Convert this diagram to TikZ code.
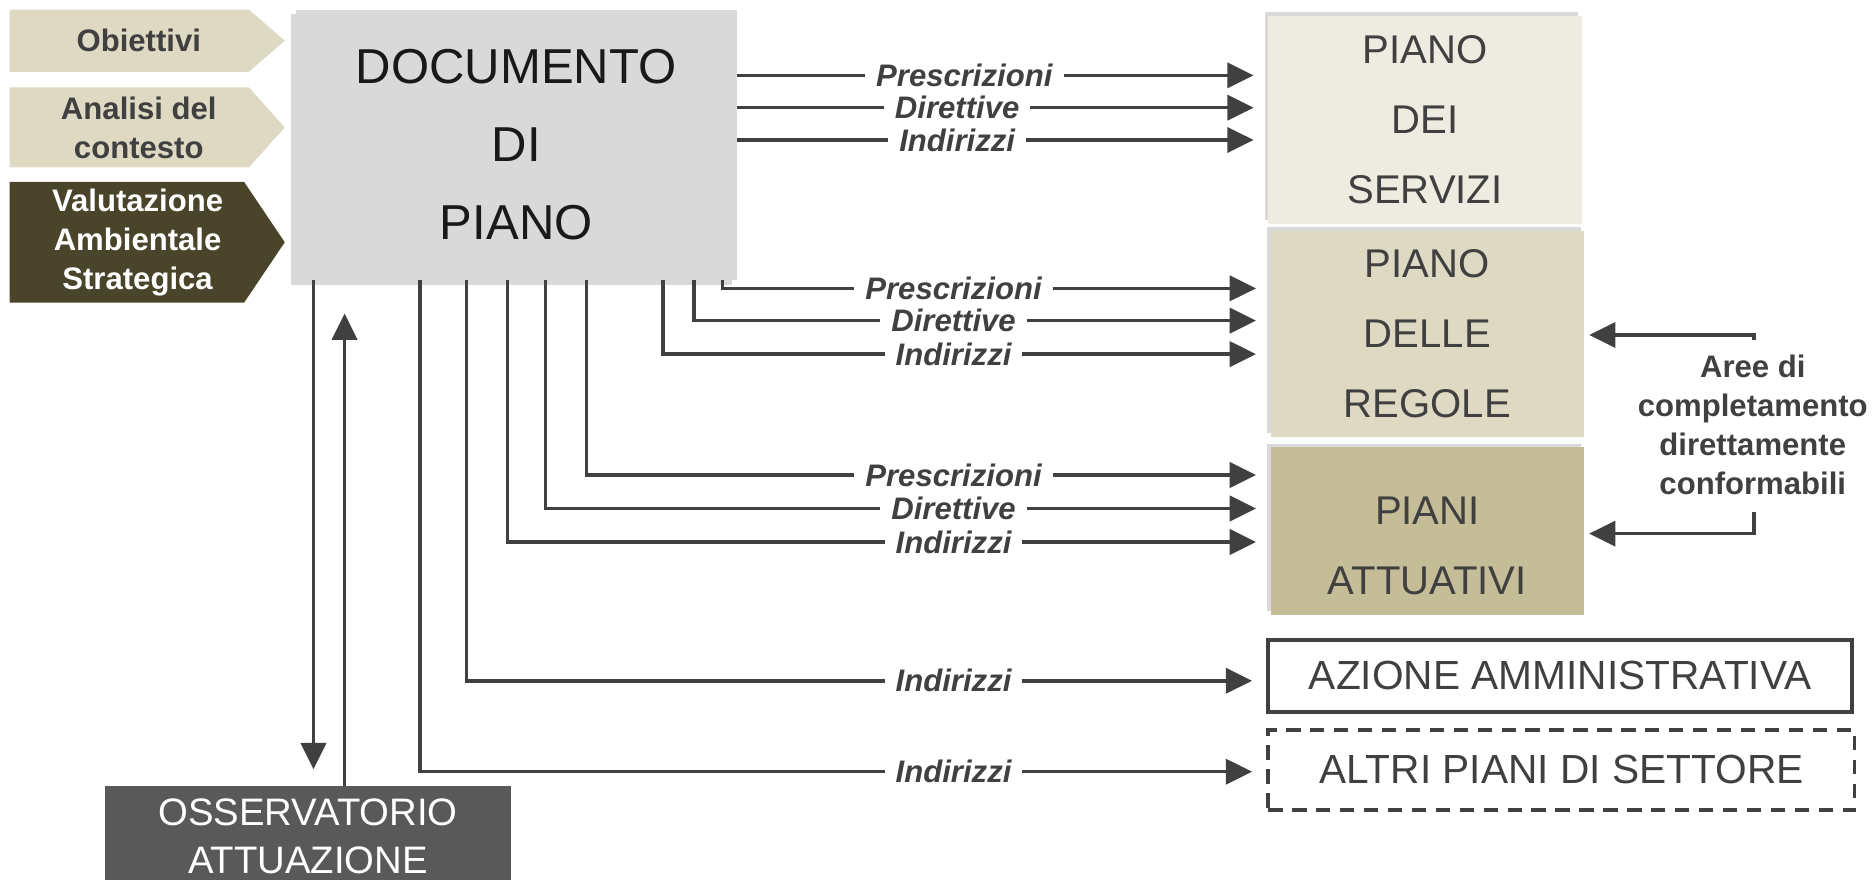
\documentclass[tikz,border=0pt]{standalone}
\usepackage{fontspec}
\setmainfont{Liberation Sans}
\usetikzlibrary{arrows.meta,calc,positioning,shadows}

\definecolor{linegrey}{HTML}{404040}
\definecolor{ddpgrey}{HTML}{D9D9D9}
\definecolor{chevlight}{HTML}{DDD9C3}
\definecolor{chevdark}{HTML}{4A452A}
\definecolor{pdsfill}{HTML}{EEECE1}
\definecolor{pdrfill}{HTML}{DDD9C3}
\definecolor{pafill}{HTML}{C4BD97}
\definecolor{ossgrey}{HTML}{595959}

\tikzset{
  conn/.style={draw=linegrey, line width=2.9pt},
  arr/.style={conn, -{Triangle[length=22pt,width=21pt]}},
  lbl/.style={font=\fontsize{26}{26}\selectfont\bfseries\itshape, text=linegrey, inner xsep=9pt, inner ysep=0pt},
  chevtext/.style={font=\fontsize{26}{32.5}\selectfont\bfseries, align=center},
  ddpbox/.style={fill=ddpgrey, minimum width=369pt, minimum height=226pt, align=center, text=black!90,
    font=\fontsize{41}{65}\selectfont, drop shadow={shadow xshift=-4pt, shadow yshift=-4pt, opacity=.3}},
  pianotext/.style={text=linegrey, align=center, font=\fontsize{33.5}{58.5}\selectfont, inner sep=0pt},
  pianobox/.style={pianotext, minimum width=262pt, drop shadow={shadow xshift=-3pt, shadow yshift=3pt, opacity=.3}},
  outbox/.style={line width=2.9pt, minimum width=488pt, minimum height=60pt, text=linegrey,
    font=\fontsize{34}{34}\selectfont, inner sep=0pt},
  ossbox/.style={fill=ossgrey, text=white, minimum width=339pt, minimum height=84pt, align=center,
    font=\fontsize{32}{40}\selectfont},
}

\begin{document}
\begin{tikzpicture}[x=1pt,y=-1pt]
  \useasboundingbox (0,0) rectangle (1568,735.5);
  % inputs
  \fill[chevlight] (8,8) -- (208,8) -- (238,34) -- (208,60) -- (8,60) -- cycle;
  \fill[chevlight] (8,73) -- (208,73) -- (238,106.5) -- (208,140) -- (8,140) -- cycle;
  \fill[chevdark] (8,152) -- (204,152) -- (238,202.5) -- (204,253) -- (8,253) -- cycle;
  \node[chevtext,text=linegrey] (obiettivi) at (116,34) {Obiettivi};
  \node[chevtext,text=linegrey] (analisi) at (116,107) {Analisi del\\contesto};
  \node[chevtext,text=white] (vas) at (115,203) {Valutazione\\Ambientale\\Strategica};

  % boxes
  \node[ddpbox] (ddp) at (431.5,121) {DOCUMENTO\\DI\\PIANO};
  \node[pianobox,fill=pdsfill,minimum height=174pt] (pds) at (1191,100) {PIANO\\DEI\\SERVIZI};
  \node[pianobox,fill=pdrfill,minimum height=172pt] (pdr) at (1193,279) {PIANO\\DELLE\\REGOLE};
  \node[pianobox,fill=pafill,minimum height=140pt] (pa) at (1193,444) {};
  \node[pianotext] (patext) at (1193,456) {PIANI\\ATTUATIVI};
  \node[outbox,draw=linegrey] (azione) at (1304,565) {AZIONE AMMINISTRATIVA};
  \node[outbox,draw=linegrey,dash pattern=on 12pt off 8pt,minimum width=490pt,minimum height=67pt] (altri) at (1305,643.5) {ALTRI PIANI DI SETTORE};
  \node[ossbox] (oss) at (257.5,699) {OSSERVATORIO\\ATTUAZIONE};

  % to piano dei servizi
  \node[lbl] (lp1) at (806,63) {Prescrizioni};
  \node[lbl] (ld1) at (800,90) {Direttive};
  \node[lbl] (li1) at (800,117) {Indirizzi};
  \draw[arr] (ddp.east |- lp1) -- (lp1) -- ($(pds.west |- lp1)+(-12,0)$);
  \draw[arr] (ddp.east |- ld1) -- (ld1) -- ($(pds.west |- ld1)+(-12,0)$);
  \draw[arr] (ddp.east |- li1) -- (li1) -- ($(pds.west |- li1)+(-12,0)$);

  % to piano delle regole
  \coordinate (cp2) at (604,241);
  \coordinate (cd2) at (580,268);
  \coordinate (ci2) at (554,296);
  \node[lbl] (lp2) at (797,241) {Prescrizioni};
  \node[lbl] (ld2) at (797,268) {Direttive};
  \node[lbl] (li2) at (797,296) {Indirizzi};
  \draw[arr] (ddp.south -| cp2) -- (cp2) -- (lp2) -- ($(pdr.west |- lp2)+(-12,0)$);
  \draw[arr] (ddp.south -| cd2) -- (cd2) -- (ld2) -- ($(pdr.west |- ld2)+(-12,0)$);
  \draw[arr] (ddp.south -| ci2) -- (ci2) -- (li2) -- ($(pdr.west |- li2)+(-12,0)$);

  % to piani attuativi
  \coordinate (cp3) at (490,397);
  \coordinate (cd3) at (456,425);
  \coordinate (ci3) at (424,453);
  \node[lbl] (lp3) at (797,397) {Prescrizioni};
  \node[lbl] (ld3) at (797,425) {Direttive};
  \node[lbl] (li3) at (797,453) {Indirizzi};
  \draw[arr] (ddp.south -| cp3) -- (cp3) -- (lp3) -- ($(pa.west |- lp3)+(-12,0)$);
  \draw[arr] (ddp.south -| cd3) -- (cd3) -- (ld3) -- ($(pa.west |- ld3)+(-12,0)$);
  \draw[arr] (ddp.south -| ci3) -- (ci3) -- (li3) -- ($(pa.west |- li3)+(-12,0)$);

  % azione and altri piani
  \coordinate (ca) at (390,569);
  \coordinate (cs) at (351,645);
  \node[lbl] (la) at (797,569) {Indirizzi};
  \node[lbl] (ls) at (797,645) {Indirizzi};
  \draw[arr] (ddp.south -| ca) -- (ca) -- (la) -- ($(azione.west |- la)+(-12,0)$);
  \draw[arr] (ddp.south -| cs) -- (cs) -- (ls) -- ($(altri.west |- ls)+(-12,0)$);

  % osservatorio
  \coordinate (dn) at (262,643);
  \coordinate (up) at (288,262);
  \draw[arr] (ddp.south -| dn) -- (dn);
  \draw[arr] (oss.north -| up) -- (up);

  % aree di completamento
  \node[chevtext,text=linegrey] (aree) at (1465,355) {Aree di\\completamento\\direttamente\\conformabili};
  \coordinate (ta) at (1466,280);
  \coordinate (tb) at (1466,446);
  \draw[arr] ($(ta)+(0,4)$) -- (ta) -- ($(pdr.east |- ta)+(4,0)$);
  \draw[arr] ($(tb)+(0,-18)$) -- (tb) -- ($(pa.east |- tb)+(4,0)$);
\end{tikzpicture}
\end{document}
